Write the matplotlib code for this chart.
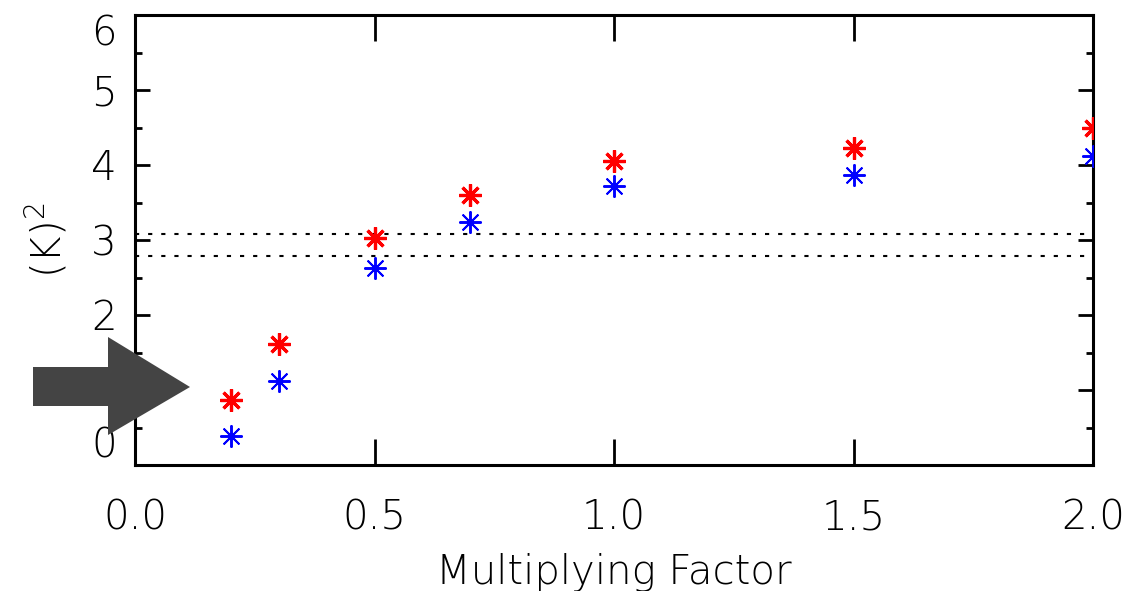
import matplotlib
matplotlib.use('Agg')
import matplotlib.pyplot as plt
from matplotlib.patches import Polygon
import numpy as np

# factores y valores
factor = [0.2, 0.3, 0.5, 0.7, 1.0, 1.5, 2.0]
k2_rojo = [0.87, 1.61, 3.03, 3.60, 4.05, 4.23, 4.49]
k2_azul = [0.39, 1.12, 2.63, 3.24, 3.72, 3.87, 4.12]
niveles = [3.08, 2.79]

xticks = [0.0, 0.5, 1.0, 1.5, 2.0]
yticks = [0, 1, 2, 3, 4, 5, 6]

plt.rcParams['font.family'] = ['DejaVu Sans']
plt.rcParams['font.weight'] = 'light'
plt.rcParams['axes.labelweight'] = 'light'

fig = plt.figure(figsize=(11.29, 5.91), dpi=100)
W, H = 1129, 591
ax = fig.add_axes([135 / W, 1 - 465 / H, (1093 - 135) / W, 450 / H])

asterisco = (8, 2, 0)
for y in niveles:
    ax.axhline(y, color='k', lw=1.5, linestyle=(0, (2, 4.3)), zorder=1)
ax.plot(factor, k2_rojo, linestyle='none', marker=asterisco, ms=16,
        mec='red', mew=2.3, zorder=3)
ax.plot(factor, k2_azul, linestyle='none', marker=asterisco, ms=16,
        mec='blue', mew=1.4, zorder=3)

ax.set_xlim(0, 2)
ax.set_ylim(0, 6)
ax.set_xticks(xticks)
ax.set_xticklabels([f'{v:.1f}' for v in xticks])
ax.set_yticks(yticks)
ax.set_yticks(np.arange(0.5, 6, 1.0), minor=True)
ax.set_yticklabels([str(v) for v in yticks])

for s in ax.spines.values():
    s.set_linewidth(2.2)
ax.tick_params(axis='x', which='major', direction='in', length=19, width=2,
               top=True, bottom=True, labelsize=29, pad=24)
ax.tick_params(axis='y', which='major', direction='in', length=11, width=2,
               left=True, right=True, labelsize=29, pad=13)
ax.tick_params(axis='y', which='minor', direction='in', length=5, width=2,
               left=True, right=True)
labs = ax.get_yticklabels()
labs[0].set_va('bottom')
labs[-1].set_va('top')

ax.set_xlabel('Multiplying Factor', fontsize=29)
ax.xaxis.set_label_coords(0.5, -0.195)
ax.set_ylabel('(K)$^2$', fontsize=29)
ax.yaxis.set_label_coords(-0.068, 0.5)

# flecha gris
pts = [(33, 367), (108, 367), (108, 337), (190, 387), (108, 435), (108, 406), (33, 406)]
flecha = Polygon([(x / W, 1 - y / H) for x, y in pts], closed=True,
                 transform=fig.transFigure, facecolor='#444444', edgecolor='none', zorder=10)
fig.add_artist(flecha)

fig.savefig('out.png', dpi=100)
